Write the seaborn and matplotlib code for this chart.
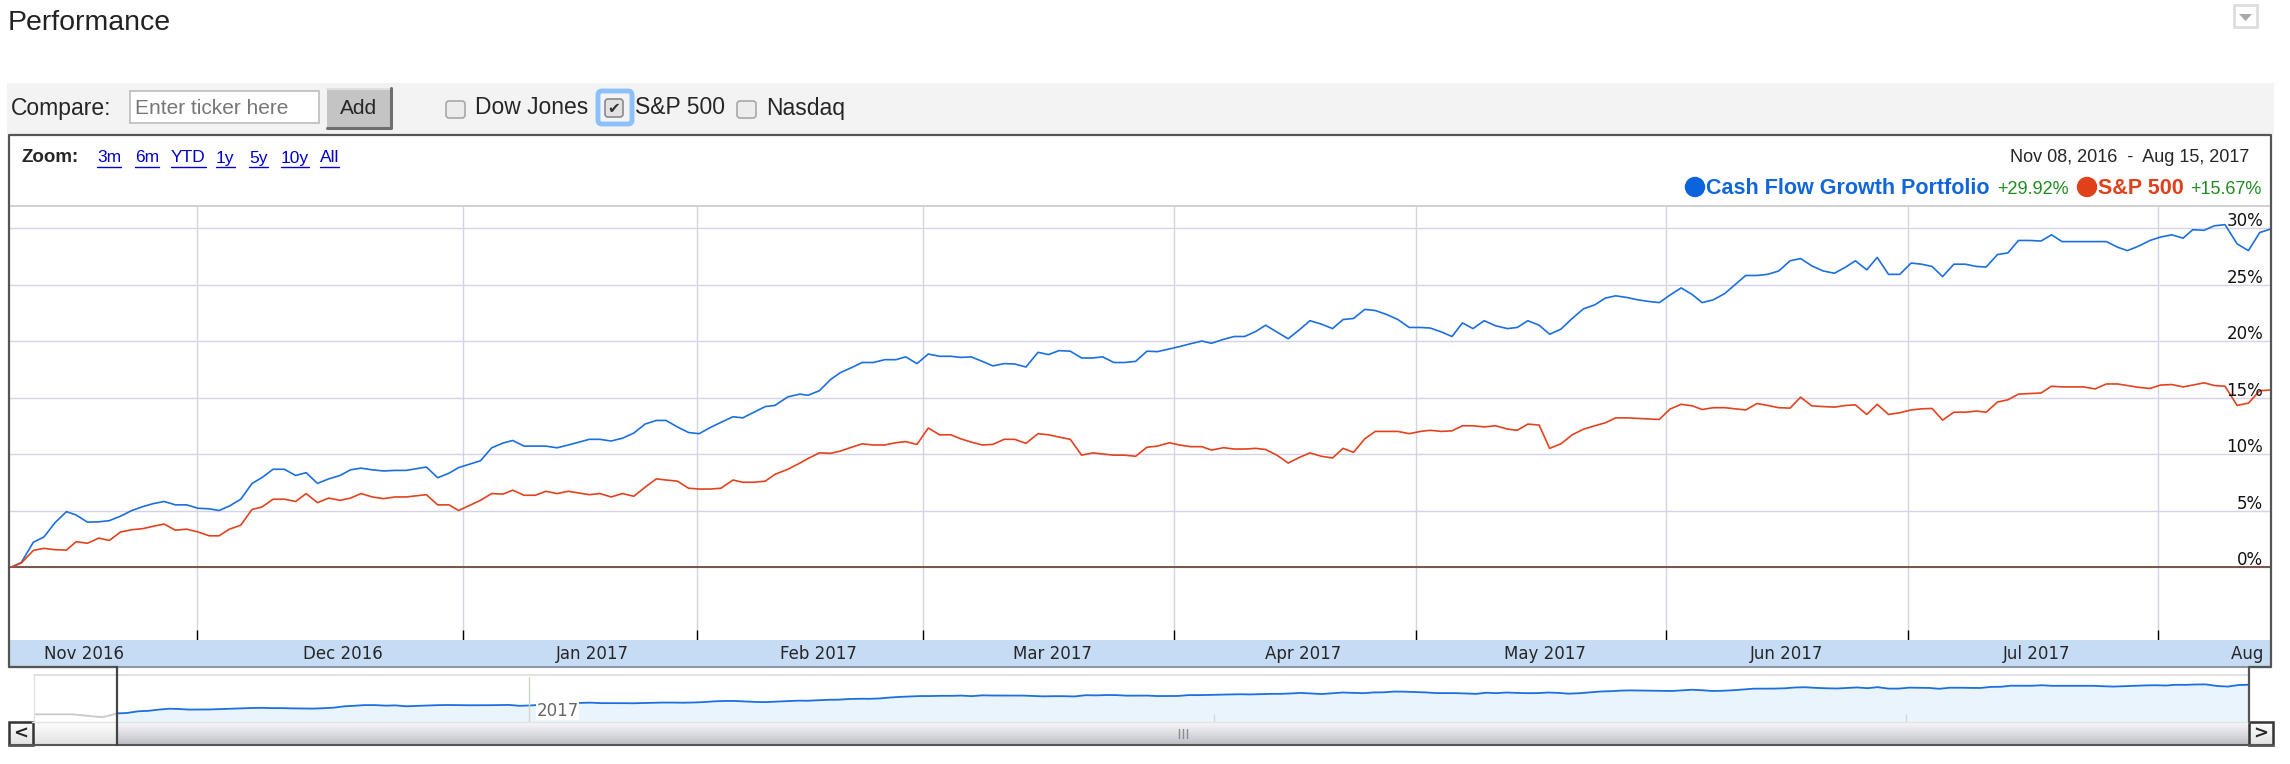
import numpy as np
import pandas as pd
import matplotlib
matplotlib.use("Agg")
import matplotlib.pyplot as plt
import matplotlib.dates as mdates
import matplotlib.transforms as mtransforms
from matplotlib.patches import Rectangle, FancyBboxPatch, Circle, Polygon
from matplotlib.colors import LinearSegmentedColormap
import seaborn as sns

# ── CONFIG ───────────────────────────────────────────────────────────────────
W, H = 2290, 764
START = pd.Timestamp("2016-11-08")
END = pd.Timestamp("2017-08-15")
NAV_START = pd.Timestamp("2016-10-28")

BLUE = "#1c6fdf"
RED = "#e2431e"
GREEN = "#1e8c1e"

# days after Nov 08, 2016 and cumulative return in %
DAYS = [0.0, 1.2, 2.7, 4.0, 5.4, 6.8, 8.0, 9.4, 10.8, 12.1, 13.5, 14.9, 16.3,
        17.5, 18.9, 20.3, 21.7, 23.1, 24.5, 25.7, 27.0, 28.4, 29.8, 31.0, 32.4,
        33.8, 35.2, 36.5, 37.9, 39.3, 40.7, 42.0, 43.3, 44.7, 46.1, 47.5, 48.9,
        51.4, 52.8, 54.2, 55.4, 58.1, 59.5, 60.9, 62.1, 63.5, 64.9, 66.2, 67.6,
        69.0, 71.6, 72.9, 74.3, 75.7, 77.1, 78.5, 79.9, 81.1, 82.5, 83.9, 85.2,
        86.6, 87.9, 89.4, 90.6, 92.0, 93.4, 94.6, 96.2, 97.7, 98.7, 100.1,
        101.5, 102.7, 104.1, 105.4, 106.8, 108.2, 109.6, 110.8, 112.2, 113.6,
        115.0, 116.4, 117.6, 118.9, 120.3, 121.6, 123.0, 124.3, 125.7, 127.2,
        128.5, 129.8, 131.2, 132.6, 134.0, 135.2, 136.6, 137.9, 139.3, 140.7,
        142.0, 143.5, 144.7, 146.1, 147.5, 148.7, 150.2, 151.5, 152.8, 154.2,
        155.4, 156.8, 158.2, 159.6, 160.9, 162.3, 163.7, 165.0, 166.3, 167.7,
        169.0, 170.4, 171.8, 173.2, 174.6, 175.8, 177.2, 178.5, 179.8, 181.1,
        182.5, 183.9, 185.4, 186.6, 187.9, 189.3, 190.6, 192.0, 193.4, 194.8,
        196.2, 197.5, 198.8, 200.2, 201.5, 202.9, 204.2, 205.5, 206.9, 208.3,
        209.5, 210.9, 212.3, 213.6, 214.9, 216.3, 217.6, 219.0, 220.4, 221.7,
        223.1, 224.5, 225.9, 227.3, 228.5, 229.9, 231.2, 232.6, 234.0, 235.4,
        236.7, 238.0, 239.3, 240.7, 242.1, 243.5, 244.7, 246.1, 247.4, 248.7,
        250.1, 251.5, 252.8, 254.1, 256.8, 258.2, 259.6, 261.0, 262.2, 263.6,
        265.0, 266.3, 267.7, 269.1, 270.3, 271.7, 273.0, 274.3, 275.8, 277.2,
        278.6, 280.0]

PORTFOLIO = [0.0, 0.4, 2.2, 2.65, 3.94, 4.9, 4.6, 3.97, 4.0, 4.1, 4.5, 5.0, 5.35,
             5.6, 5.8, 5.5, 5.5, 5.2, 5.15, 5.0, 5.4, 6.0, 7.4, 7.9, 8.65,
             8.65, 8.1, 8.35, 7.4, 7.8, 8.1, 8.6, 8.75, 8.6, 8.5, 8.55, 8.55,
             8.85, 7.9, 8.3, 8.8, 9.4, 10.55, 10.97, 11.2, 10.7, 10.7, 10.7, 10.55,
             10.8, 11.3, 11.3, 11.15, 11.4, 11.85, 12.65, 12.97, 12.97, 12.4, 11.9, 11.8,
             12.35, 12.8, 13.3, 13.2, 13.7, 14.2, 14.3, 15.06, 15.3, 15.2, 15.6,
             16.6, 17.2, 17.65, 18.1, 18.1, 18.35, 18.35, 18.6, 18.0, 18.85,
             18.65, 18.65, 18.55, 18.6, 18.2, 17.8, 18.0, 17.97, 17.7, 19.0,
             18.8, 19.15, 19.1, 18.5, 18.5, 18.6, 18.1, 18.1, 18.2, 19.1,
             19.06, 19.3, 19.5, 19.76, 20.0, 19.8, 20.15, 20.4, 20.4, 20.85,
             21.4, 20.8, 20.2, 21.0, 21.8, 21.5, 21.1, 21.9, 22.0, 22.8,
             22.7, 22.35, 21.9, 21.2, 21.2, 21.15, 20.8, 20.4, 21.6, 21.1,
             21.8, 21.35, 21.1, 21.2, 21.8, 21.4, 20.6, 21.05, 22.0, 22.85,
             23.2, 23.8, 24.0, 23.85, 23.65, 23.5, 23.4, 24.06, 24.7, 24.1,
             23.4, 23.65, 24.2, 25.0, 25.8, 25.8, 25.9, 26.2, 27.1, 27.3,
             26.65, 26.2, 26.0, 26.55, 27.1, 26.3, 27.4, 25.9, 25.9, 26.9,
             26.8, 26.6, 25.7, 26.8, 26.8, 26.6, 26.55, 27.65, 27.8, 28.9,
             28.9, 28.85, 29.4, 28.8, 28.8, 28.8, 28.8, 28.3, 28.0, 28.4,
             28.9, 29.2, 29.4, 29.1, 29.85, 29.8, 30.2, 30.3, 28.6, 28.0,
             29.6, 29.92]

SP500 = [0.0, 0.35, 1.47, 1.65, 1.53, 1.5, 2.24, 2.1, 2.56, 2.35, 3.1, 3.3, 3.4,
         3.6, 3.8, 3.26, 3.35, 3.1, 2.76, 2.76, 3.35, 3.7, 5.1, 5.3, 6.0,
         6.0, 5.8, 6.5, 5.7, 6.1, 5.9, 6.1, 6.5, 6.2, 6.05, 6.2, 6.2,
         6.4, 5.5, 5.5, 5.0, 5.9, 6.5, 6.45, 6.8, 6.35, 6.35, 6.7, 6.5,
         6.7, 6.4, 6.5, 6.2, 6.5, 6.26, 7.06, 7.8, 7.7, 7.6, 6.97, 6.9,
         6.9, 6.97, 7.7, 7.5, 7.5, 7.6, 8.2, 8.65, 9.2, 9.6, 10.1,
         10.06, 10.26, 10.6, 10.9, 10.8, 10.8, 11.0, 11.1, 10.85, 12.3,
         11.7, 11.7, 11.35, 11.06, 10.8, 10.85, 11.3, 11.3, 10.94, 11.8,
         11.7, 11.5, 11.3, 9.9, 10.1, 10.0, 9.9, 9.9, 9.8, 10.6,
         10.7, 11.0, 10.8, 10.65, 10.65, 10.35, 10.56, 10.44, 10.44, 10.5,
         10.4, 9.9, 9.2, 9.7, 10.1, 9.8, 9.65, 10.5, 10.15, 11.35,
         12.0, 12.0, 12.0, 11.8, 12.0, 12.1, 12.0, 12.05, 12.5, 12.5,
         12.4, 12.5, 12.2, 12.1, 12.65, 12.56, 10.5, 10.9, 11.7, 12.2,
         12.5, 12.76, 13.2, 13.2, 13.15, 13.1, 13.06, 13.97, 14.4, 14.26,
         13.94, 14.1, 14.1, 14.0, 13.9, 14.47, 14.3, 14.1, 14.06, 15.03,
         14.26, 14.2, 14.15, 14.3, 14.35, 13.5, 14.4, 13.5, 13.65, 13.9,
         14.0, 14.03, 13.0, 13.7, 13.7, 13.8, 13.7, 14.6, 14.8, 15.3,
         15.35, 15.4, 16.0, 15.94, 15.94, 15.76, 16.2, 16.2, 16.06, 15.9,
         15.8, 16.1, 16.15, 15.94, 16.1, 16.3, 16.06, 16.0, 14.3, 14.5,
         15.6, 15.67]

# navigator: the greyed-out stretch before the selected window
NAV_PRE_DAYS = [-11, -6, -2, 0]
NAV_PRE_VALUES = [-1.0, -1.0, -4.0, 0.0]

Y_TICKS = [0, 5, 10, 15, 20, 25, 30]
MONTH_STARTS = ["2016-12-01", "2017-01-03", "2017-02-01", "2017-03-01",
                "2017-04-01", "2017-05-01", "2017-06-01", "2017-07-01",
                "2017-08-01"]
MONTH_LABELS = ["Nov 2016", "Dec 2016", "Jan 2017", "Feb 2017", "Mar 2017",
                "Apr 2017", "May 2017", "Jun 2017", "Jul 2017", "Aug 2017"]
MONTH_LABEL_DATES = ["2016-11-17", "2016-12-19", "2017-01-19", "2017-02-16",
                     "2017-03-17", "2017-04-17", "2017-05-17", "2017-06-16",
                     "2017-07-17", "2017-08-15"]
NAV_MARKS = ["2017-04-01", "2017-07-01"]
ZOOM_LINKS = ["3m", "6m", "YTD", "1y", "5y", "10y", "All"]
ZOOM_LINK_X = [97, 135, 171, 216, 249, 281, 320]
SERIES = ["Cash Flow Growth Portfolio", "S&P 500"]
TOTALS = ["+29.92%", "+15.67%"]
# ─────────────────────────────────────────────────────────────────────────────

sns.set_style("white")
plt.rcParams["font.family"] = ["Liberation Sans", "DejaVu Sans"]

dates = START + pd.to_timedelta(DAYS, unit="D")
perf = pd.DataFrame({"date": dates, SERIES[0]: PORTFOLIO, SERIES[1]: SP500})
perf = perf.melt(id_vars="date", var_name="series", value_name="pct")

fig = plt.figure(figsize=(W / 100, H / 100), dpi=100)
fig.patch.set_facecolor("white")


def px_axes(x0, y0, x1, y1):
    return fig.add_axes([x0 / W, 1 - y1 / H, (x1 - x0) / W, (y1 - y0) / H])


def d2n(d):
    return mdates.date2num(pd.Timestamp(d))


# ── BACKGROUND / PAGE CHROME ─────────────────────────────────────────────────
bg = fig.add_axes([0, 0, 1, 1])
bg.set_xlim(0, W)
bg.set_ylim(H, 0)
bg.axis("off")

bg.text(8, 23, "Performance", fontsize=20.5, color="#222222", va="center")
bg.add_patch(Rectangle((2234, 5), 23, 22, fc="white", ec="#dddddd", lw=2))
bg.add_patch(Polygon([(2239, 14), (2252, 14), (2245.5, 21)], closed=True,
                     fc="#aaaaaa", ec="none"))

# compare toolbar
bg.add_patch(Rectangle((7, 83), 2267, 52, fc="#f3f3f3", ec="none"))
bg.text(11, 108, "Compare:", fontsize=16.5, va="center")
bg.add_patch(Rectangle((130, 91), 189, 32, fc="white", ec="#bcbcbc", lw=1.2))
bg.text(135, 108, "Enter ticker here", fontsize=15, color="#777777", va="center")
bg.add_patch(Rectangle((327, 88), 64, 40, fc="#c4c4c4", ec="none"))
bg.plot([327, 391], [89, 89], color="#e0e0e0", lw=1.5)
bg.plot([391, 391, 327], [88, 128, 128], color="#6f6f6f", lw=2.2)
bg.text(359, 108, "Add", fontsize=15, ha="center", va="center")

for x0, label in [(446, "Dow Jones"), (737, "Nasdaq")]:
    bg.add_patch(FancyBboxPatch((x0, 101), 19, 17,
                                boxstyle="round,pad=0,rounding_size=3",
                                fc="#ececec", ec="#a8a8a8", lw=1.2))
    bg.text(x0 + 29, 108, label, fontsize=16.5, va="center")
bg.add_patch(FancyBboxPatch((598, 91), 34, 33,
                            boxstyle="round,pad=0,rounding_size=4",
                            fc="none", ec="#8cc0f8", lw=3.5))
bg.add_patch(FancyBboxPatch((605, 99), 18, 18,
                            boxstyle="round,pad=0,rounding_size=3",
                            fc="#e2e2e2", ec="#8a8a8a", lw=1.2))
bg.text(614, 108, "\u2714", fontsize=11, color="#333333", ha="center",
        va="center", family=["DejaVu Sans"])
bg.text(635, 108, "S&P 500", fontsize=16.5, va="center")

# chart header: zoom links, date range, legend
bg.text(21, 158, "Zoom:", fontsize=13.5, fontweight="bold", va="center")
zoom_texts = [bg.text(x, 158, lab, fontsize=12.5, color="#0000cc", va="center")
              for x, lab in zip(ZOOM_LINK_X, ZOOM_LINKS)]
bg.text(2249, 157, "Nov 08, 2016  -  Aug 15, 2017", fontsize=13, ha="right",
        va="center")

bg.add_patch(Circle((1695, 187), 9.5, color="#0b64dc"))
bg.text(1706, 194.5, SERIES[0], fontsize=15.5, fontweight="bold",
        color="#1266dc", va="baseline")
bg.text(1997, 194.5, TOTALS[0], fontsize=13, color=GREEN, va="baseline")
bg.add_patch(Circle((2087, 187), 9.5, color="#e0401a"))
bg.text(2098, 194.5, SERIES[1], fontsize=15.5, fontweight="bold",
        color="#e0401a", va="baseline")
bg.text(2190, 194.5, TOTALS[1], fontsize=13, color=GREEN, va="baseline")

# plot top border
bg.plot([10, 2271], [206, 206], color="#c8c8c8", lw=1.2)

# ── MAIN CHART ───────────────────────────────────────────────────────────────
ax = px_axes(10, 206, 2271, 640)
ax.patch.set_alpha(0)
sns.lineplot(data=perf, x="date", y="pct", hue="series", hue_order=SERIES,
             palette={SERIES[0]: BLUE, SERIES[1]: RED}, estimator=None,
             legend=False, linewidth=1.2, ax=ax, zorder=3)
ax.set_xlim(d2n(START) - 0.2, d2n(END))
ax.set_ylim(-6.46, 31.95)
for s in ax.spines.values():
    s.set_visible(False)
ax.set_yticks(Y_TICKS)
ax.set_xticks([d2n(d) for d in MONTH_STARTS])
ax.grid(axis="y", color="#d3d3ea", lw=1)
ax.grid(axis="x", color="#d4d4dc", lw=1)
ax.set_axisbelow(True)
ax.tick_params(axis="x", direction="in", length=7.5, width=1, color="black",
               bottom=True, labelbottom=False)
ax.tick_params(axis="y", left=False, labelleft=False)
ax.set_xlabel("")
ax.set_ylabel("")
ax.axhline(0, color="#6b4a3e", lw=1.3, zorder=2)

ylab_tf = mtransforms.blended_transform_factory(ax.transAxes, ax.transData)
for v in Y_TICKS:
    ax.text(0.9966, v + 0.15, f"{v}%", transform=ylab_tf, ha="right",
            va="baseline", fontsize=12, family=["DejaVu Sans"], color="#111111",
            zorder=4)

# month band
band = px_axes(10, 640, 2271, 667)
band.set_facecolor("#c6dcf4")
band.set_xlim(ax.get_xlim())
band.set_ylim(0, 1)
band.set_xticks([])
band.set_yticks([])
for s in band.spines.values():
    s.set_visible(False)
for d, lab in zip(MONTH_LABEL_DATES, MONTH_LABELS):
    band.text(d2n(d), 0.48, lab, ha="center", va="center", fontsize=12,
              family=["DejaVu Sans"], clip_on=True)

# ── NAVIGATOR ────────────────────────────────────────────────────────────────
nav = px_axes(34, 677, 2249, 722)
nav.set_xlim(d2n(NAV_START), d2n(END))
nav.set_ylim(-9, 38)
pre_dates = START + pd.to_timedelta(NAV_PRE_DAYS, unit="D")
nav.plot(mdates.date2num(pre_dates), NAV_PRE_VALUES, color="#c9c9c9", lw=1.3)
nav.fill_between(mdates.date2num(dates), PORTFOLIO, -9, color="#eaf4fd", lw=0)
sns.lineplot(x=mdates.date2num(dates), y=PORTFOLIO, color=BLUE, lw=1.3,
             estimator=None, ax=nav)
nav.axvline(d2n("2017-01-01"), color="#cfd8cf", lw=1)
nav.vlines([d2n(d) for d in NAV_MARKS], -9, -1, color="#d6d6d6", lw=1)
nav.text(d2n("2017-01-02"), 3, "2017", fontsize=12, color="#666666",
         family=["DejaVu Sans"], va="center",
         bbox=dict(fc="white", ec="none", pad=0.5))
nav.set_xticks([])
nav.set_yticks([])
for s in nav.spines.values():
    s.set_visible(False)

# ── SCROLLBAR + FRAME (drawn on top) ─────────────────────────────────────────
fg = fig.add_axes([0, 0, 1, 1])
fg.patch.set_alpha(0)
fg.axis("off")
thumb_cmap = LinearSegmentedColormap.from_list(
    "thumb", ["#f7f7f9", "#e6e6ea", "#d2d2d8", "#bdbdc6"])
track_cmap = LinearSegmentedColormap.from_list(
    "track", ["#fdfdfd", "#f0f0f0", "#e2e2e2"])
grad = np.linspace(0, 1, 32).reshape(-1, 1)
fg.imshow(grad, extent=[117, 2249, 745, 722], aspect="auto", cmap=thumb_cmap)
fg.imshow(grad, extent=[32, 117, 745, 722], aspect="auto", cmap=track_cmap)
for x0 in (9, 2249):
    fg.imshow(grad, extent=[x0, x0 + 24, 745, 722], aspect="auto",
              cmap=track_cmap)
    fg.add_patch(Rectangle((x0, 722), 24, 23, fc="none", ec="#333333", lw=1.8))
fg.text(21, 734, "<", fontsize=13, fontweight="bold", ha="center",
        va="center", family=["DejaVu Sans"])
fg.text(2261, 734, ">", fontsize=13, fontweight="bold", ha="center",
        va="center", family=["DejaVu Sans"])
for gx in (1179, 1183, 1187):
    fg.plot([gx, gx], [729, 738], color="#8a8a8a", lw=1)
fg.plot([32, 2249], [722, 722], color="#e4e4e4", lw=1)
fg.plot([9, 2273], [745, 745], color="#555555", lw=1.5)

# nav borders
fg.plot([34, 2249], [675, 675], color="#dddddd", lw=1.2)
fg.plot([34, 34], [675, 722], color="#e2e2e2", lw=1)

# chart frame
fg.plot([9, 2271], [667, 667], color="#8d99a8", lw=1.5)
fg.plot([117, 9, 9, 2271, 2271, 2249, 2249], [667, 667, 135, 135, 667, 667, 722],
        color="#555555", lw=1.6)
fg.plot([117, 117], [667, 745], color="#444444", lw=1.6)

fg.set_xlim(0, W)
fg.set_ylim(H, 0)

# underline zoom links
fig.canvas.draw()
renderer = fig.canvas.get_renderer()
for t in zoom_texts:
    bb = t.get_window_extent(renderer=renderer)
    fg.plot([bb.x0, bb.x1], [167, 167], color="#0000cc", lw=1)
fg.set_xlim(0, W)
fg.set_ylim(H, 0)

fig.savefig("out.png", dpi=100, facecolor="white")
